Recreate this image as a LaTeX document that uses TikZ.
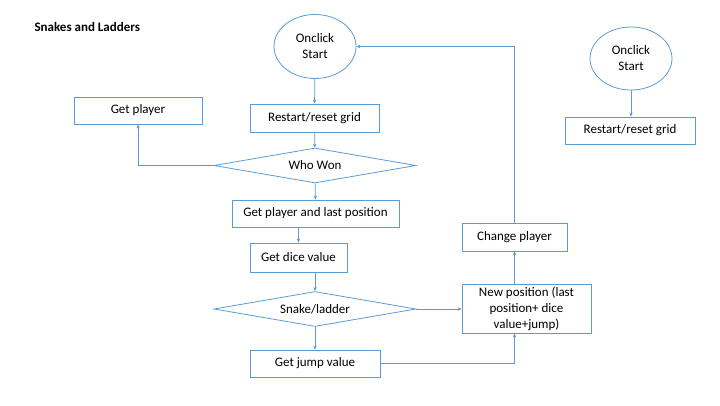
\documentclass[tikz,border=0pt]{standalone}
\usepackage{fontspec}
\setmainfont{Carlito}
\usetikzlibrary{arrows.meta,shapes.geometric}
\definecolor{lineblue}{HTML}{5B9BD5}
\tikzset{
  base/.style={draw=lineblue, line width=0.8pt, inner sep=0pt, text=black, font=\fontsize{13}{16}\selectfont, align=center},
  box/.style={base, rectangle, minimum width=#1, minimum height=27pt},
  oval/.style={base, ellipse, minimum width=82pt, minimum height=64pt},
  dia/.style={base, diamond, aspect=5.7, minimum width=202pt, minimum height=35pt},
  conn/.style={draw=lineblue, line width=0.8pt, -{Stealth[length=4pt,width=3.5pt]}}
}
\begin{document}
\begin{tikzpicture}[x=1pt,y=-1pt]
\useasboundingbox (0,0) rectangle (720,405);
\node[anchor=west, font=\fontsize{13}{16}\selectfont\bfseries] (title) at (31,27) {Snakes and Ladders};

\node[oval] (start) at (315,46.5) {Onclick\\Start};
\node[box=129pt, minimum height=28pt] (reset) at (314.5,118) {Restart/reset grid};
\node[dia] (won) at (315,165.5) {Who Won};
\node[box=128pt] (getp) at (138,110.5) {Get player};
\node[box=167pt] (last) at (315.5,213.5) {Get player and last position};
\node[box=97pt, minimum height=29pt] (dice) at (298.5,257.5) {Get dice value};
\node[dia] (snake) at (315,309) {Snake/ladder};
\node[box=130pt] (jump) at (315,363.5) {Get jump value};
\node[box=129pt, minimum height=49pt] (newpos) at (526.5,308.5) {New position (last\\position+ dice\\value+jump)};
\node[box=105pt, minimum height=28pt] (change) at (514.5,237) {Change player};

\node[oval, minimum height=63pt] (start2) at (631,58.5) {Onclick\\Start};
\node[box=130pt] (reset2) at (630,130.5) {Restart/reset grid};

\draw[conn] (start) -- (reset);
\draw[conn] (reset) -- (won);
\draw[conn] (won.west) -| (getp.south);
\draw[conn] (won) -- (last);
\draw[conn] (last.south -| dice) -- (dice);
\draw[conn] (dice.south -| snake) -- (snake);
\draw[conn] (snake) -- (jump);
\draw[conn] (snake.east) -- (newpos.west |- snake.east);
\draw[conn] (jump.east) -| (newpos.south -| change);
\draw[conn] (newpos.north -| change) -- (change);
\draw[conn] (change.north) |- (start.east);
\draw[conn] (start2) -- (reset2.north -| start2);
\end{tikzpicture}
\end{document}
